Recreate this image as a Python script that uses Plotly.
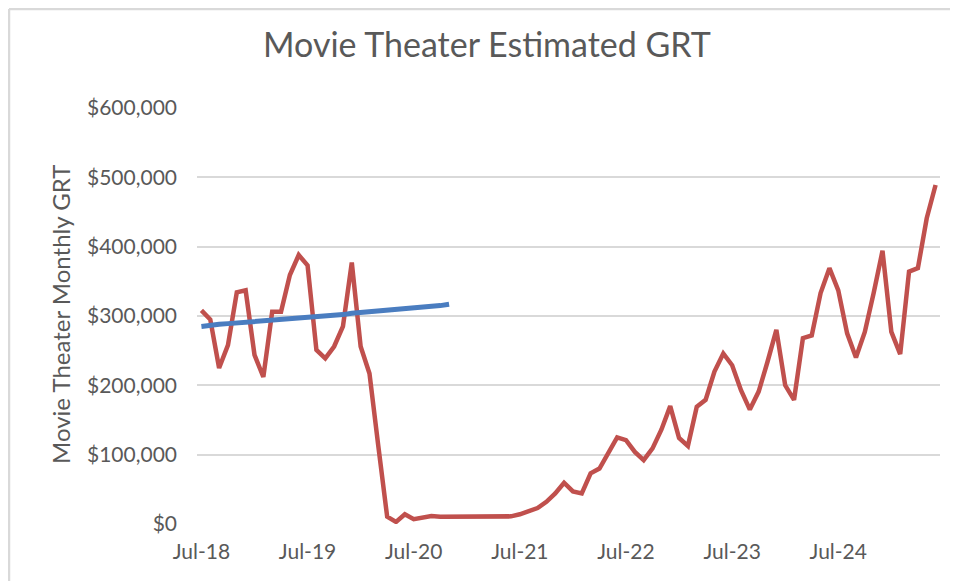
import plotly.graph_objects as go

# ---- data ----
start_year, start_month = 2018, 7
n_months = 84
mon_names = ["Jan", "Feb", "Mar", "Apr", "May", "Jun", "Jul", "Aug", "Sep", "Oct", "Nov", "Dec"]
months = []
for k in range(n_months):
    m = (start_month - 1 + k) % 12
    y = start_year + (start_month - 1 + k) // 12
    months.append(f"{mon_names[m]}-{str(y)[2:]}")

grt = [
    308000, 295000, 225000, 258000, 334000, 337000, 244000, 212000, 306000, 306000,
    359000, 388000, 373000, 251000, 239000, 256000, 285000, 377000, 256000, 217000,
    112000, 10500, 3000, 14000, 7000, 10000, 11500, 10500, 10500, 10500,
    10500, 10500, 10500, 10500, 10500, 11000, 14000, 18000, 23000, 32000,
    44000, 59500, 47000, 44000, 73000, 80000, 104000, 125000, 121000, 104000,
    92000, 109000, 136000, 170000, 124000, 112500, 169000, 179000, 220000, 246000,
    229000, 193000, 165000, 191000, 234000, 280000, 200000, 179000, 268000, 272000,
    333000, 369000, 337000, 275000, 240000, 277000, 333000, 394000, 277000, 245000,
    364000, 369000, 441000, 489000,
]

trend = [
    285000, 287000, 288000, 289000, 290000, 291000, 292000, 292500, 294000, 295000,
    296000, 297000, 298000, 298500, 299000, 300000, 302000, 304000, 305000, 306000,
    307000, 309000, 310000, 311000, 311500, 312000, 314000, 315000, 317000,
]

tick_labels = ["Jul-18", "Jul-19", "Jul-20", "Jul-21", "Jul-22", "Jul-23", "Jul-24"]
y_ticks = [0, 100000, 200000, 300000, 400000, 500000, 600000]

# ---- layout geometry (pixels, page body has an 8px margin) ----
OFF = 8
W, H = 958 - OFF, 581 - OFF
L, R, T, B = 197 - OFF, 940 - OFF, 108 - OFF, 524 - OFF
pw, ph = R - L, B - T

def px_x(p):
    return (p - OFF - L) / pw

def px_y(p):
    return (B - (p - OFF)) / ph

font_family = "Lato, 'Open Sans', sans-serif"
gray = "#595959"

fig = go.Figure()
fig.add_trace(go.Scatter(
    x=months, y=grt, mode="lines",
    line=dict(color="#C0504D", width=4.5),
    showlegend=False,
))
fig.add_trace(go.Scatter(
    x=months[:len(trend)], y=trend, mode="lines",
    line=dict(color="#4A7DC0", width=5),
    showlegend=False,
))

fig.update_layout(
    width=W, height=H,
    margin=dict(l=L, r=W - R, t=T, b=H - B, pad=0),
    paper_bgcolor="white", plot_bgcolor="white",
    font=dict(family=font_family, color=gray),
    title=dict(
        text="Movie Theater Estimated GRT",
        x=(487 - OFF) / W, xanchor="center",
        y=1 - (45 - OFF) / H, yanchor="middle",
        font=dict(size=34, color=gray, family=font_family),
    ),
    xaxis=dict(
        type="category",
        categoryorder="array", categoryarray=months,
        range=[-0.5, n_months - 0.5],
        tickvals=tick_labels, ticktext=tick_labels,
        showgrid=False, zeroline=False, showline=False,
        ticks="", ticklabelstandoff=13,
        tickfont=dict(size=21, color=gray, family=font_family),
    ),
    yaxis=dict(
        range=[0, 600000],
        tickvals=y_ticks,
        tickformat="$,.0f",
        showgrid=True, gridcolor="#D9D9D9", gridwidth=1.5,
        zeroline=False, showline=False, ticks="",
        ticklabelstandoff=19,
        tickfont=dict(size=21, color=gray, family=font_family),
    ),
    annotations=[
        dict(text="Movie Theater Monthly GRT", textangle=-90,
             xref="paper", yref="paper", x=px_x(60), y=px_y(315),
             xanchor="center", yanchor="middle", showarrow=False,
             font=dict(size=24, color=gray, family=font_family)),
    ],
    shapes=[
        dict(type="line", xref="paper", yref="paper",
             x0=px_x(9), x1=px_x(958 + 20), y0=px_y(9), y1=px_y(9),
             line=dict(color="#D9D9D9", width=2.5)),
        dict(type="line", xref="paper", yref="paper",
             x0=px_x(9), x1=px_x(9), y0=px_y(9), y1=px_y(581 + 20),
             line=dict(color="#D9D9D9", width=2.5)),
    ],
)

fig.write_html("out.html")
